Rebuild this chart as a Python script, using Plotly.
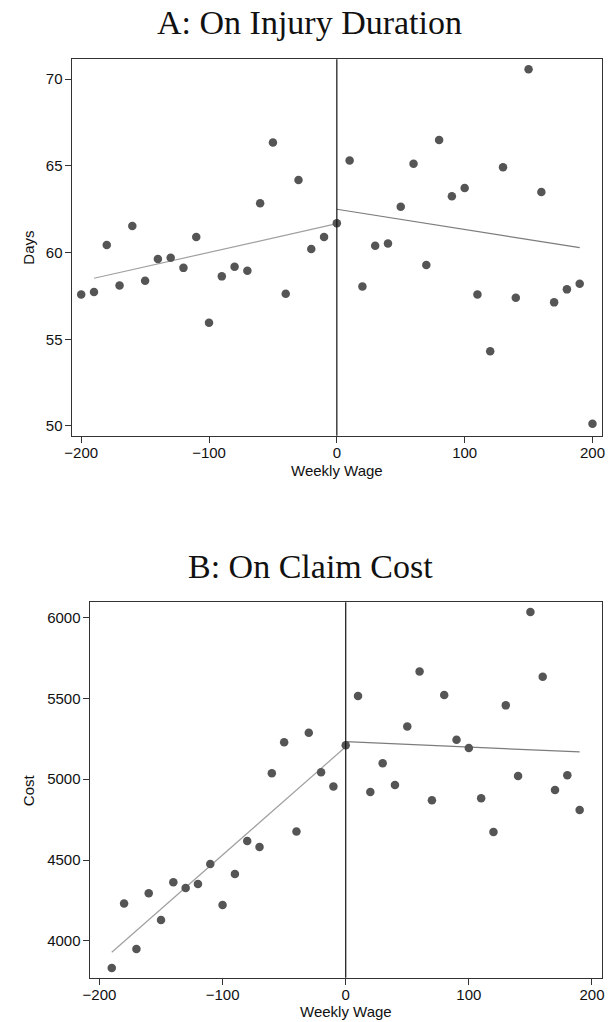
import plotly.graph_objects as go

# ---------------- Data ----------------
wage_a = [-200, -190, -180, -170, -160, -150, -140, -130, -120, -110, -100,
          -90, -80, -70, -60, -50, -40, -30, -20, -10, 0,
          10, 20, 30, 40, 50, 60, 70, 80, 90, 100,
          110, 120, 130, 140, 150, 160, 170, 180, 190, 200]
days = [57.58, 57.73, 60.44, 58.10, 61.54, 58.38, 59.63, 59.71, 59.12, 60.90, 55.96,
        58.63, 59.19, 58.96, 62.85, 66.35, 57.63, 64.19, 60.21, 60.90, 61.69,
        65.31, 58.04, 60.40, 60.52, 62.65, 65.13, 59.29, 66.50, 63.25, 63.73,
        57.58, 54.31, 64.92, 57.40, 70.58, 63.50, 57.13, 57.88, 58.21, 50.13]

fit_a_left_x = [-190, 0]
fit_a_left_y = [58.52, 61.67]
fit_a_right_x = [0, 190]
fit_a_right_y = [62.50, 60.29]

wage_b = [-190, -180, -170, -160, -150, -140, -130, -120, -110, -100,
          -90, -80, -70, -60, -50, -40, -30, -20, -10, 0,
          10, 20, 30, 40, 50, 60, 70, 80, 90, 100,
          110, 120, 130, 140, 150, 160, 170, 180, 190]
cost = [3833, 4231, 3951, 4295, 4130, 4363, 4327, 4352, 4476, 4222,
        4414, 4618, 4581, 5036, 5228, 4676, 5287, 5042, 4954, 5209,
        5514, 4921, 5098, 4964, 5326, 5666, 4869, 5520, 5244, 5193,
        4882, 4674, 5456, 5020, 6033, 5633, 4933, 5024, 4810]

fit_b_left_x = [-190, 0]
fit_b_left_y = [3930, 5200]
fit_b_right_x = [0, 190]
fit_b_right_y = [5232, 5168]

x_ticks = [-200, -100, 0, 100, 200]
days_ticks = [50, 55, 60, 65, 70]
cost_ticks = [4000, 4500, 5000, 5500, 6000]
cutoff = 0

# ---------------- Styles ----------------
W, H = 609, 1022
DOT = "#555555"
FIT_L = "#a0a0a0"
FIT_R = "#7c7c7c"
AX = "#333333"
SANS = "Liberation Sans, Arial, sans-serif"
SERIF = "Liberation Serif, Times New Roman, serif"

fig = go.Figure()

fig.add_trace(go.Scatter(x=fit_a_left_x, y=fit_a_left_y, mode="lines",
                         line=dict(color=FIT_L, width=1.2), xaxis="x", yaxis="y",
                         showlegend=False, hoverinfo="skip"))
fig.add_trace(go.Scatter(x=fit_a_right_x, y=fit_a_right_y, mode="lines",
                         line=dict(color=FIT_R, width=1.2), xaxis="x", yaxis="y",
                         showlegend=False, hoverinfo="skip"))
fig.add_trace(go.Scatter(x=wage_a, y=days, mode="markers",
                         marker=dict(color=DOT, size=8.5, line=dict(width=0)),
                         xaxis="x", yaxis="y", showlegend=False))

fig.add_trace(go.Scatter(x=fit_b_left_x, y=fit_b_left_y, mode="lines",
                         line=dict(color=FIT_L, width=1.2), xaxis="x2", yaxis="y2",
                         showlegend=False, hoverinfo="skip"))
fig.add_trace(go.Scatter(x=fit_b_right_x, y=fit_b_right_y, mode="lines",
                         line=dict(color=FIT_R, width=1.2), xaxis="x2", yaxis="y2",
                         showlegend=False, hoverinfo="skip"))
fig.add_trace(go.Scatter(x=wage_b, y=cost, mode="markers",
                         marker=dict(color=DOT, size=8.5, line=dict(width=0)),
                         xaxis="x2", yaxis="y2", showlegend=False))

axis_common = dict(showgrid=False, zeroline=False, showline=True, mirror=True,
                   linecolor=AX, linewidth=1.2, ticks="outside", ticklen=6,
                   tickwidth=1, tickcolor=AX,
                   tickfont=dict(family=SANS, size=15, color="#111111"))
x_extra = dict(ticklabelstandoff=-3)
y_extra = dict(ticklabelstandoff=-1)

fig.update_layout(
    width=W, height=H,
    margin=dict(l=0, r=0, t=0, b=0),
    paper_bgcolor="white", plot_bgcolor="white",
    xaxis=dict(domain=[65.7 / W, 605 / W], range=[-207.5, 207.5],
               tickvals=x_ticks, anchor="y", **axis_common, **x_extra),
    yaxis=dict(domain=[1 - 435.7 / H, 1 - 59.3 / H], range=[49.44, 71.15],
               tickvals=days_ticks, anchor="x", **axis_common, **y_extra),
    xaxis2=dict(domain=[84 / W, 605 / W], range=[-208, 208.2],
                tickvals=x_ticks, anchor="y2", **axis_common, **x_extra),
    yaxis2=dict(domain=[1 - 977.7 / H, 1 - 602.3 / H], range=[3773, 6093],
                tickvals=cost_ticks, anchor="x2", **axis_common, **y_extra),
)

fig.add_shape(type="line", xref="x", yref="y domain", x0=cutoff, x1=cutoff,
              y0=0, y1=1, line=dict(color="#111111", width=1.2))
fig.add_shape(type="line", xref="x2", yref="y2 domain", x0=cutoff, x1=cutoff,
              y0=0, y1=1, line=dict(color="#111111", width=1.2))

ann = [
    dict(text="A: On Injury Duration", x=308 / W, y=1 - 22 / H,
         font=dict(family=SERIF, size=34, color="#111111")),
    dict(text="B: On Claim Cost", x=309 / W, y=1 - 566 / H,
         font=dict(family=SERIF, size=34, color="#111111")),
    dict(text="Weekly Wage", x=335.3 / W, y=1 - 470 / H,
         font=dict(family=SANS, size=15, color="#111111")),
    dict(text="Weekly Wage", x=344.3 / W, y=1 - 1011 / H,
         font=dict(family=SANS, size=15, color="#111111")),
    dict(text="Days", x=21.5 / W, y=1 - 247.5 / H, textangle=-90,
         font=dict(family=SANS, size=15, color="#111111")),
    dict(text="Cost", x=21.5 / W, y=1 - 790 / H, textangle=-90,
         font=dict(family=SANS, size=15, color="#111111")),
]
for a in ann:
    fig.add_annotation(xref="paper", yref="paper", xanchor="center",
                       yanchor="middle", showarrow=False, **a)

fig.write_html("out.html",
               config={"displayModeBar": False},
               post_script="document.body.style.margin='0';"
                           "document.body.style.padding='0';"
                           "document.documentElement.style.overflow='hidden';")
